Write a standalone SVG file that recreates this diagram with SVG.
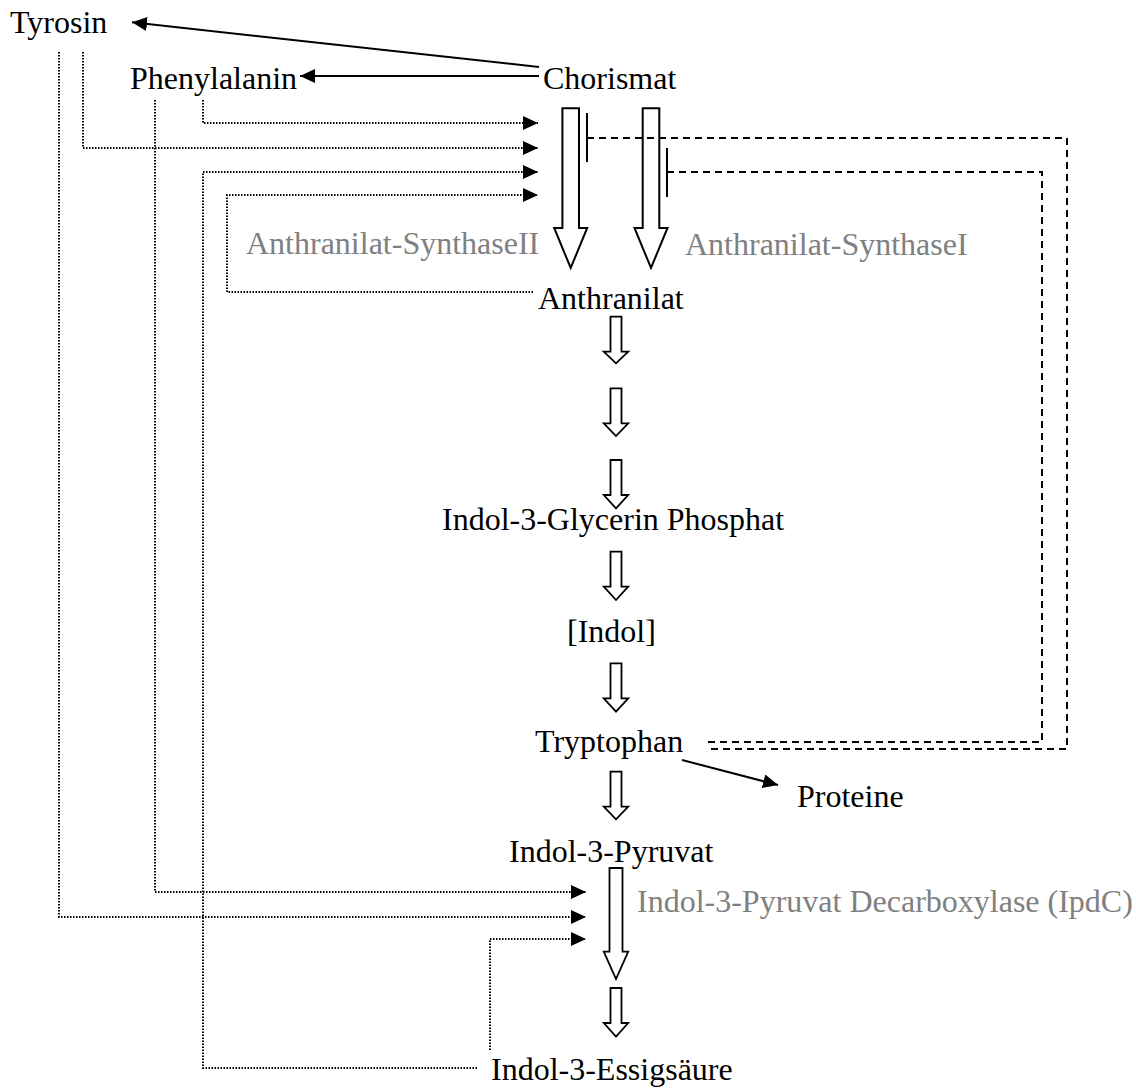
<svg xmlns="http://www.w3.org/2000/svg" width="1136" height="1089" viewBox="0 0 1136 1089">
<style>
text{font-family:"Liberation Serif","Times New Roman",serif;font-size:32px;fill:#000}
text.enz{fill:#808080}
.solid{fill:none;stroke:#000;stroke-width:2}
.dot{fill:none;stroke:#000;stroke-width:2;stroke-dasharray:1.5 1.5}
.dash{fill:none;stroke:#000;stroke-width:2;stroke-dasharray:7 5}
.bar{stroke:#000;stroke-width:2}
.hollow{fill:#fff;stroke:#000;stroke-width:2;stroke-linejoin:miter}
.hollows{fill:#fff;stroke:#000;stroke-width:1.8}
</style>
<defs>
<marker id="ah" markerUnits="userSpaceOnUse" markerWidth="16" markerHeight="14" refX="15" refY="7" orient="auto" viewBox="0 0 16 14">
<path d="M0,0 L15,7 L0,14 Z" fill="#000"/>
</marker>
</defs>
<rect width="1136" height="1089" fill="#fff"/>
<g id="connectors">
<line class="solid" x1="539" y1="67" x2="132" y2="22.3" marker-end="url(#ah)"/>
<line class="solid" x1="539" y1="76" x2="300" y2="76" marker-end="url(#ah)"/>
<line class="solid" x1="682" y1="760" x2="778" y2="785" marker-end="url(#ah)"/>
<path class="dot" d="M203,100 V123 H538" marker-end="url(#ah)"/>
<path class="dot" d="M83,52 V148 H538" marker-end="url(#ah)"/>
<path class="dot" d="M477,1068 H203 V172 H538" marker-end="url(#ah)"/>
<path class="dot" d="M533,292 H227 V195 H538" marker-end="url(#ah)"/>
<path class="dot" d="M155,100 V892 H586" marker-end="url(#ah)"/>
<path class="dot" d="M59,52 V917 H586" marker-end="url(#ah)"/>
<path class="dot" d="M490,1050 V939 H586" marker-end="url(#ah)"/>
<polygon class="hollow" points="562.4,108.3 579,108.3 579,228 587.2,228 570.7,268 554.2,228 562.4,228"/>
<polygon class="hollow" points="642.7,108.3 659.3,108.3 659.3,228 667.5,228 651,268 634.5,228 642.7,228"/>
<polygon class="hollows" points="610.5,316.7 621.5,316.7 621.5,351.7 628.2,351.7 616,363.3 603.8,351.7 610.5,351.7"/>
<polygon class="hollows" points="610.5,388.3 621.5,388.3 621.5,423.3 628.2,423.3 616,436 603.8,423.3 610.5,423.3"/>
<polygon class="hollows" points="610.5,460 621.5,460 621.5,495 628.2,495 616,508.3 603.8,495 610.5,495"/>
<polygon class="hollows" points="610.5,551.7 621.5,551.7 621.5,586.7 628.2,586.7 616,600 603.8,586.7 610.5,586.7"/>
<polygon class="hollows" points="610.5,663.3 621.5,663.3 621.5,698.3 628.2,698.3 616,711.7 603.8,698.3 610.5,698.3"/>
<polygon class="hollows" points="610.5,771.7 621.5,771.7 621.5,806.7 628.2,806.7 616,819.3 603.8,806.7 610.5,806.7"/>
<polygon class="hollows" points="609.5,868 622.5,868 622.5,951.7 628.2,951.7 616,979 603.8,951.7 609.5,951.7"/>
<polygon class="hollows" points="610.5,988 621.5,988 621.5,1023 628.2,1023 616,1036.7 603.8,1023 610.5,1023"/>
<path class="dash" d="M587,138 H1067 V749 H707"/>
<path class="dash" d="M667,172 H1042 V742 H707"/>
<line class="bar" x1="587" y1="113" x2="587" y2="162"/>
<line class="bar" x1="667" y1="148" x2="667" y2="197"/>
</g>
<g id="n-tyrosin"><text x="10" y="33">Tyrosin</text></g>
<g id="n-phenylalanin"><text x="130" y="89">Phenylalanin</text></g>
<g id="n-chorismat"><text x="543" y="89">Chorismat</text></g>
<g id="l-as2"><text class="enz" x="246" y="254">Anthranilat-SynthaseII</text></g>
<g id="l-as1"><text class="enz" x="685" y="255">Anthranilat-SynthaseI</text></g>
<g id="n-anthranilat"><text x="538" y="309">Anthranilat</text></g>
<g id="n-igp"><text x="442" y="530">Indol-3-Glycerin Phosphat</text></g>
<g id="n-indol"><text x="567" y="642">[Indol]</text></g>
<g id="n-tryptophan"><text x="535" y="752">Tryptophan</text></g>
<g id="n-proteine"><text x="797" y="807">Proteine</text></g>
<g id="n-ipyr"><text x="509" y="862">Indol-3-Pyruvat</text></g>
<g id="l-ipdc"><text class="enz" x="637" y="912">Indol-3-Pyruvat Decarboxylase (IpdC)</text></g>
<g id="n-iaa"><text x="491" y="1080">Indol-3-Essigsäure</text></g>
</svg>
